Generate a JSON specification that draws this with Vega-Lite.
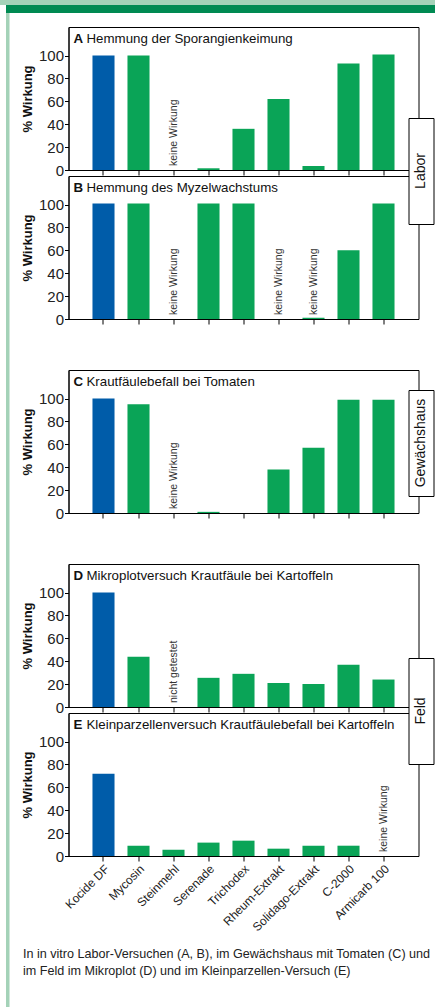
{
  "$schema": "https://vega.github.io/schema/vega-lite/v6.json",
  "padding": 0,
  "background": "white",
  "config": {
    "view": {"stroke": null},
    "font": "Liberation Sans, Arial, sans-serif",
    "axis": {"domainColor": "#000", "tickColor": "#000", "labelColor": "#222", "titleColor": "#111", "labelFont": "Liberation Sans, Arial, sans-serif", "titleFont": "Liberation Sans, Arial, sans-serif", "grid": false, "domainWidth": 1, "tickWidth": 1},
    "axisY": {"values": [0, 20, 40, 60, 80, 100], "labelOverlap": false, "tickSize": 4, "labelPadding": 1, "labelFontSize": 15, "titleFontSize": 13, "titleFontWeight": "bold", "titlePadding": 4},
    "axisX": {"title": null, "tickSize": 5},
    "title": {"anchor": "start", "frame": "group", "offset": -18, "dx": 18, "font": "Liberation Sans, Arial, sans-serif", "fontSize": 13.3, "fontWeight": "normal", "color": "#111"}
  },
  "datasets": {
    "wirkung": [
      {"Versuch": "A", "Mittel": "Kocide DF", "Gruppe": "Kupfer", "Wirkung": 100, "Hinweis": null},
      {"Versuch": "A", "Mittel": "Mycosin", "Gruppe": "Alternativ", "Wirkung": 100, "Hinweis": null},
      {"Versuch": "A", "Mittel": "Steinmehl", "Gruppe": "Alternativ", "Wirkung": null, "Hinweis": "keine Wirkung"},
      {"Versuch": "A", "Mittel": "Serenade", "Gruppe": "Alternativ", "Wirkung": 1.5, "Hinweis": null},
      {"Versuch": "A", "Mittel": "Trichodex", "Gruppe": "Alternativ", "Wirkung": 36, "Hinweis": null},
      {"Versuch": "A", "Mittel": "Rheum-Extrakt", "Gruppe": "Alternativ", "Wirkung": 62, "Hinweis": null},
      {"Versuch": "A", "Mittel": "Solidago-Extrakt", "Gruppe": "Alternativ", "Wirkung": 3.5, "Hinweis": null},
      {"Versuch": "A", "Mittel": "C-2000", "Gruppe": "Alternativ", "Wirkung": 93, "Hinweis": null},
      {"Versuch": "A", "Mittel": "Armicarb 100", "Gruppe": "Alternativ", "Wirkung": 101, "Hinweis": null},
      {"Versuch": "B", "Mittel": "Kocide DF", "Gruppe": "Kupfer", "Wirkung": 101, "Hinweis": null},
      {"Versuch": "B", "Mittel": "Mycosin", "Gruppe": "Alternativ", "Wirkung": 101, "Hinweis": null},
      {"Versuch": "B", "Mittel": "Steinmehl", "Gruppe": "Alternativ", "Wirkung": null, "Hinweis": "keine Wirkung"},
      {"Versuch": "B", "Mittel": "Serenade", "Gruppe": "Alternativ", "Wirkung": 101, "Hinweis": null},
      {"Versuch": "B", "Mittel": "Trichodex", "Gruppe": "Alternativ", "Wirkung": 101, "Hinweis": null},
      {"Versuch": "B", "Mittel": "Rheum-Extrakt", "Gruppe": "Alternativ", "Wirkung": null, "Hinweis": "keine Wirkung"},
      {"Versuch": "B", "Mittel": "Solidago-Extrakt", "Gruppe": "Alternativ", "Wirkung": 1, "Hinweis": "keine Wirkung"},
      {"Versuch": "B", "Mittel": "C-2000", "Gruppe": "Alternativ", "Wirkung": 60, "Hinweis": null},
      {"Versuch": "B", "Mittel": "Armicarb 100", "Gruppe": "Alternativ", "Wirkung": 101, "Hinweis": null},
      {"Versuch": "C", "Mittel": "Kocide DF", "Gruppe": "Kupfer", "Wirkung": 100, "Hinweis": null},
      {"Versuch": "C", "Mittel": "Mycosin", "Gruppe": "Alternativ", "Wirkung": 95, "Hinweis": null},
      {"Versuch": "C", "Mittel": "Steinmehl", "Gruppe": "Alternativ", "Wirkung": null, "Hinweis": "keine Wirkung"},
      {"Versuch": "C", "Mittel": "Serenade", "Gruppe": "Alternativ", "Wirkung": 1, "Hinweis": null},
      {"Versuch": "C", "Mittel": "Trichodex", "Gruppe": "Alternativ", "Wirkung": 0, "Hinweis": null},
      {"Versuch": "C", "Mittel": "Rheum-Extrakt", "Gruppe": "Alternativ", "Wirkung": 38, "Hinweis": null},
      {"Versuch": "C", "Mittel": "Solidago-Extrakt", "Gruppe": "Alternativ", "Wirkung": 57, "Hinweis": null},
      {"Versuch": "C", "Mittel": "C-2000", "Gruppe": "Alternativ", "Wirkung": 99, "Hinweis": null},
      {"Versuch": "C", "Mittel": "Armicarb 100", "Gruppe": "Alternativ", "Wirkung": 99, "Hinweis": null},
      {"Versuch": "D", "Mittel": "Kocide DF", "Gruppe": "Kupfer", "Wirkung": 100, "Hinweis": null},
      {"Versuch": "D", "Mittel": "Mycosin", "Gruppe": "Alternativ", "Wirkung": 44, "Hinweis": null},
      {"Versuch": "D", "Mittel": "Steinmehl", "Gruppe": "Alternativ", "Wirkung": null, "Hinweis": "nicht getestet"},
      {"Versuch": "D", "Mittel": "Serenade", "Gruppe": "Alternativ", "Wirkung": 25.5, "Hinweis": null},
      {"Versuch": "D", "Mittel": "Trichodex", "Gruppe": "Alternativ", "Wirkung": 29, "Hinweis": null},
      {"Versuch": "D", "Mittel": "Rheum-Extrakt", "Gruppe": "Alternativ", "Wirkung": 21, "Hinweis": null},
      {"Versuch": "D", "Mittel": "Solidago-Extrakt", "Gruppe": "Alternativ", "Wirkung": 20, "Hinweis": null},
      {"Versuch": "D", "Mittel": "C-2000", "Gruppe": "Alternativ", "Wirkung": 37, "Hinweis": null},
      {"Versuch": "D", "Mittel": "Armicarb 100", "Gruppe": "Alternativ", "Wirkung": 24, "Hinweis": null},
      {"Versuch": "E", "Mittel": "Kocide DF", "Gruppe": "Kupfer", "Wirkung": 72, "Hinweis": null},
      {"Versuch": "E", "Mittel": "Mycosin", "Gruppe": "Alternativ", "Wirkung": 9, "Hinweis": null},
      {"Versuch": "E", "Mittel": "Steinmehl", "Gruppe": "Alternativ", "Wirkung": 5.5, "Hinweis": null},
      {"Versuch": "E", "Mittel": "Serenade", "Gruppe": "Alternativ", "Wirkung": 11.7, "Hinweis": null},
      {"Versuch": "E", "Mittel": "Trichodex", "Gruppe": "Alternativ", "Wirkung": 13.4, "Hinweis": null},
      {"Versuch": "E", "Mittel": "Rheum-Extrakt", "Gruppe": "Alternativ", "Wirkung": 6.4, "Hinweis": null},
      {"Versuch": "E", "Mittel": "Solidago-Extrakt", "Gruppe": "Alternativ", "Wirkung": 9, "Hinweis": null},
      {"Versuch": "E", "Mittel": "C-2000", "Gruppe": "Alternativ", "Wirkung": 9, "Hinweis": null},
      {"Versuch": "E", "Mittel": "Armicarb 100", "Gruppe": "Alternativ", "Wirkung": null, "Hinweis": "keine Wirkung"}
    ]
  },
  "spacing": 0,
  "vconcat": [
    {"width": 435, "height": 5, "view": {"fill": "#a4d2b8", "stroke": null}, "data": {"values": []}, "mark": "point"},
    {
      "spacing": 0,
      "hconcat": [
        {"width": 6, "height": 1, "data": {"values": []}, "mark": "point"},
        {
          "spacing": 0,
          "vconcat": [
            {"width": 429, "height": 8, "view": {"fill": "#008a52", "stroke": null}, "data": {"values": []}, "mark": "point"},
            {
              "spacing": 10.5,
              "hconcat": [
                {"width": 3.5, "height": 994, "view": {"fill": "#a4d2b8", "stroke": null}, "data": {"values": []}, "mark": "point"},
                {
                  "spacing": 0,
                  "title": {"text": ["In in vitro Labor-Versuchen (A, B), im Gewächshaus mit Tomaten (C) und", "im Feld im Mikroplot (D) und im Kleinparzellen-Versuch (E)"], "orient": "bottom", "anchor": "start", "frame": "bounds", "offset": 14, "dx": 2, "fontSize": 12.6, "fontWeight": "normal", "lineHeight": 17, "color": "#222"},
                  "vconcat": [
                    {"width": 1, "height": 12.5, "data": {"values": []}, "mark": "point"},
                    {
                      "bounds": "flush",
                      "spacing": 340,
                      "hconcat": [
                        {
                          "bounds": "flush",
                          "spacing": 6,
                          "vconcat": [
                            {
                              "width": 350, "height": 143,
                              "view": {"stroke": "black", "strokeWidth": 1},
                              "title": "Hemmung der Sporangienkeimung",
                              "data": {"name": "wirkung"},
                              "transform": [{"filter": "datum.Versuch === 'A'"}],
                              "layer": [
                                {"mark": {"type": "bar"}, "encoding": {"x": {"field": "Mittel", "type": "nominal", "scale": {"domain": ["Kocide DF", "Mycosin", "Steinmehl", "Serenade", "Trichodex", "Rheum-Extrakt", "Solidago-Extrakt", "C-2000", "Armicarb 100"], "paddingInner": 0.37, "paddingOuter": 0.685}, "axis": {"labels": false}}, "y": {"field": "Wirkung", "type": "quantitative", "scale": {"domain": [0, 125], "nice": false}, "axis": {"title": "% Wirkung", "values": [0, 20, 40, 60, 80, 100], "labelOverlap": false}}, "color": {"field": "Gruppe", "type": "nominal", "scale": {"domain": ["Kupfer", "Alternativ"], "range": ["#005ca9", "#0aa457"]}, "legend": null}}},
                                {"transform": [{"filter": "datum.Hinweis != null"}], "mark": {"type": "text", "angle": 270, "align": "left", "baseline": "middle", "dx": 4, "fontSize": 10.5, "color": "#333"}, "encoding": {"x": {"field": "Mittel", "type": "nominal", "axis": {"labels": false}}, "y": {"datum": 0, "type": "quantitative", "axis": {"title": "% Wirkung", "values": [0, 20, 40, 60, 80, 100], "labelOverlap": false}}, "text": {"field": "Hinweis"}}},
                                {"data": {"values": [{"Versuch": "A"}]}, "mark": {"type": "text", "align": "left", "baseline": "top", "dx": -19, "dy": 4.5, "fontSize": 13.3, "fontWeight": "bold", "color": "#111"}, "encoding": {"x": {"datum": "Kocide DF", "bandPosition": 0, "axis": {"labels": false}}, "y": {"datum": 125, "type": "quantitative", "axis": {"title": "% Wirkung", "values": [0, 20, 40, 60, 80, 100], "labelOverlap": false}}, "text": {"field": "Versuch"}}}
                              ]
                            },
                            {
                              "width": 350, "height": 143,
                              "view": {"stroke": "black", "strokeWidth": 1},
                              "title": "Hemmung des Myzelwachstums",
                              "data": {"name": "wirkung"},
                              "transform": [{"filter": "datum.Versuch === 'B'"}],
                              "layer": [
                                {"mark": {"type": "bar"}, "encoding": {"x": {"field": "Mittel", "type": "nominal", "scale": {"domain": ["Kocide DF", "Mycosin", "Steinmehl", "Serenade", "Trichodex", "Rheum-Extrakt", "Solidago-Extrakt", "C-2000", "Armicarb 100"], "paddingInner": 0.37, "paddingOuter": 0.685}, "axis": {"labels": false}}, "y": {"field": "Wirkung", "type": "quantitative", "scale": {"domain": [0, 125], "nice": false}, "axis": {"title": "% Wirkung", "values": [0, 20, 40, 60, 80, 100], "labelOverlap": false}}, "color": {"field": "Gruppe", "type": "nominal", "scale": {"domain": ["Kupfer", "Alternativ"], "range": ["#005ca9", "#0aa457"]}, "legend": null}}},
                                {"transform": [{"filter": "datum.Hinweis != null"}], "mark": {"type": "text", "angle": 270, "align": "left", "baseline": "middle", "dx": 4, "fontSize": 10.5, "color": "#333"}, "encoding": {"x": {"field": "Mittel", "type": "nominal", "axis": {"labels": false}}, "y": {"datum": 0, "type": "quantitative", "axis": {"title": "% Wirkung", "values": [0, 20, 40, 60, 80, 100], "labelOverlap": false}}, "text": {"field": "Hinweis"}}},
                                {"data": {"values": [{"Versuch": "B"}]}, "mark": {"type": "text", "align": "left", "baseline": "top", "dx": -19, "dy": 4.5, "fontSize": 13.3, "fontWeight": "bold", "color": "#111"}, "encoding": {"x": {"datum": "Kocide DF", "bandPosition": 0, "axis": {"labels": false}}, "y": {"datum": 125, "type": "quantitative", "axis": {"title": "% Wirkung", "values": [0, 20, 40, 60, 80, 100], "labelOverlap": false}}, "text": {"field": "Versuch"}}}
                              ]
                            },
                            {"width": 1, "height": 39, "data": {"values": []}, "mark": "point"},
                            {
                              "width": 350, "height": 143,
                              "view": {"stroke": "black", "strokeWidth": 1},
                              "title": "Krautfäulebefall bei Tomaten",
                              "data": {"name": "wirkung"},
                              "transform": [{"filter": "datum.Versuch === 'C'"}],
                              "layer": [
                                {"mark": {"type": "bar"}, "encoding": {"x": {"field": "Mittel", "type": "nominal", "scale": {"domain": ["Kocide DF", "Mycosin", "Steinmehl", "Serenade", "Trichodex", "Rheum-Extrakt", "Solidago-Extrakt", "C-2000", "Armicarb 100"], "paddingInner": 0.37, "paddingOuter": 0.685}, "axis": {"labels": false}}, "y": {"field": "Wirkung", "type": "quantitative", "scale": {"domain": [0, 125], "nice": false}, "axis": {"title": "% Wirkung", "values": [0, 20, 40, 60, 80, 100], "labelOverlap": false}}, "color": {"field": "Gruppe", "type": "nominal", "scale": {"domain": ["Kupfer", "Alternativ"], "range": ["#005ca9", "#0aa457"]}, "legend": null}}},
                                {"transform": [{"filter": "datum.Hinweis != null"}], "mark": {"type": "text", "angle": 270, "align": "left", "baseline": "middle", "dx": 4, "fontSize": 10.5, "color": "#333"}, "encoding": {"x": {"field": "Mittel", "type": "nominal", "axis": {"labels": false}}, "y": {"datum": 0, "type": "quantitative", "axis": {"title": "% Wirkung", "values": [0, 20, 40, 60, 80, 100], "labelOverlap": false}}, "text": {"field": "Hinweis"}}},
                                {"data": {"values": [{"Versuch": "C"}]}, "mark": {"type": "text", "align": "left", "baseline": "top", "dx": -19, "dy": 4.5, "fontSize": 13.3, "fontWeight": "bold", "color": "#111"}, "encoding": {"x": {"datum": "Kocide DF", "bandPosition": 0, "axis": {"labels": false}}, "y": {"datum": 125, "type": "quantitative", "axis": {"title": "% Wirkung", "values": [0, 20, 40, 60, 80, 100], "labelOverlap": false}}, "text": {"field": "Versuch"}}}
                              ]
                            },
                            {"width": 1, "height": 39, "data": {"values": []}, "mark": "point"},
                            {
                              "width": 350, "height": 143,
                              "view": {"stroke": "black", "strokeWidth": 1},
                              "title": "Mikroplotversuch Krautfäule bei Kartoffeln",
                              "data": {"name": "wirkung"},
                              "transform": [{"filter": "datum.Versuch === 'D'"}],
                              "layer": [
                                {"mark": {"type": "bar"}, "encoding": {"x": {"field": "Mittel", "type": "nominal", "scale": {"domain": ["Kocide DF", "Mycosin", "Steinmehl", "Serenade", "Trichodex", "Rheum-Extrakt", "Solidago-Extrakt", "C-2000", "Armicarb 100"], "paddingInner": 0.37, "paddingOuter": 0.685}, "axis": {"labels": false}}, "y": {"field": "Wirkung", "type": "quantitative", "scale": {"domain": [0, 125], "nice": false}, "axis": {"title": "% Wirkung", "values": [0, 20, 40, 60, 80, 100], "labelOverlap": false}}, "color": {"field": "Gruppe", "type": "nominal", "scale": {"domain": ["Kupfer", "Alternativ"], "range": ["#005ca9", "#0aa457"]}, "legend": null}}},
                                {"transform": [{"filter": "datum.Hinweis != null"}], "mark": {"type": "text", "angle": 270, "align": "left", "baseline": "middle", "dx": 4, "fontSize": 10.5, "color": "#333"}, "encoding": {"x": {"field": "Mittel", "type": "nominal", "axis": {"labels": false}}, "y": {"datum": 0, "type": "quantitative", "axis": {"title": "% Wirkung", "values": [0, 20, 40, 60, 80, 100], "labelOverlap": false}}, "text": {"field": "Hinweis"}}},
                                {"data": {"values": [{"Versuch": "D"}]}, "mark": {"type": "text", "align": "left", "baseline": "top", "dx": -19, "dy": 4.5, "fontSize": 13.3, "fontWeight": "bold", "color": "#111"}, "encoding": {"x": {"datum": "Kocide DF", "bandPosition": 0, "axis": {"labels": false}}, "y": {"datum": 125, "type": "quantitative", "axis": {"title": "% Wirkung", "values": [0, 20, 40, 60, 80, 100], "labelOverlap": false}}, "text": {"field": "Versuch"}}}
                              ]
                            },
                            {
                              "width": 350, "height": 143,
                              "view": {"stroke": "black", "strokeWidth": 1},
                              "title": "Kleinparzellenversuch Krautfäulebefall bei Kartoffeln",
                              "data": {"name": "wirkung"},
                              "transform": [{"filter": "datum.Versuch === 'E'"}],
                              "layer": [
                                {"mark": {"type": "bar"}, "encoding": {"x": {"field": "Mittel", "type": "nominal", "scale": {"domain": ["Kocide DF", "Mycosin", "Steinmehl", "Serenade", "Trichodex", "Rheum-Extrakt", "Solidago-Extrakt", "C-2000", "Armicarb 100"], "paddingInner": 0.37, "paddingOuter": 0.685}, "axis": {"labels": true, "labelAngle": -45, "labelFontSize": 12, "labelPadding": 2}}, "y": {"field": "Wirkung", "type": "quantitative", "scale": {"domain": [0, 125], "nice": false}, "axis": {"title": "% Wirkung", "values": [0, 20, 40, 60, 80, 100], "labelOverlap": false}}, "color": {"field": "Gruppe", "type": "nominal", "scale": {"domain": ["Kupfer", "Alternativ"], "range": ["#005ca9", "#0aa457"]}, "legend": null}}},
                                {"transform": [{"filter": "datum.Hinweis != null"}], "mark": {"type": "text", "angle": 270, "align": "left", "baseline": "middle", "dx": 4, "fontSize": 10.5, "color": "#333"}, "encoding": {"x": {"field": "Mittel", "type": "nominal", "axis": {"labels": true, "labelAngle": -45, "labelFontSize": 12, "labelPadding": 2}}, "y": {"datum": 0, "type": "quantitative", "axis": {"title": "% Wirkung", "values": [0, 20, 40, 60, 80, 100], "labelOverlap": false}}, "text": {"field": "Hinweis"}}},
                                {"data": {"values": [{"Versuch": "E"}]}, "mark": {"type": "text", "align": "left", "baseline": "top", "dx": -19, "dy": 4.5, "fontSize": 13.3, "fontWeight": "bold", "color": "#111"}, "encoding": {"x": {"datum": "Kocide DF", "bandPosition": 0, "axis": {"labels": true, "labelAngle": -45, "labelFontSize": 12, "labelPadding": 2}}, "y": {"datum": 125, "type": "quantitative", "axis": {"title": "% Wirkung", "values": [0, 20, 40, 60, 80, 100], "labelOverlap": false}}, "text": {"field": "Versuch"}}}
                              ]
                            }
                          ]
                        },
                        {
                          "bounds": "flush",
                          "spacing": 0,
                          "vconcat": [
                            {"width": 1, "height": 91, "data": {"values": []}, "mark": "point"},
                            {"width": 25, "height": 106, "view": {"stroke": "black", "fill": "white", "strokeWidth": 1}, "data": {"values": [{"Ort": "Labor"}]}, "mark": {"type": "text", "angle": 270, "fontSize": 14, "color": "#111", "baseline": "middle", "align": "center"}, "encoding": {"x": {"field": "Ort", "type": "nominal", "axis": null}, "y": {"field": "Ort", "type": "nominal", "axis": null}, "text": {"field": "Ort"}}},
                            {"width": 1, "height": 166, "data": {"values": []}, "mark": "point"},
                            {"width": 25, "height": 106, "view": {"stroke": "black", "fill": "white", "strokeWidth": 1}, "data": {"values": [{"Ort": "Gewächshaus"}]}, "mark": {"type": "text", "angle": 270, "fontSize": 14, "color": "#111", "baseline": "middle", "align": "center"}, "encoding": {"x": {"field": "Ort", "type": "nominal", "axis": null}, "y": {"field": "Ort", "type": "nominal", "axis": null}, "text": {"field": "Ort"}}},
                            {"width": 1, "height": 162, "data": {"values": []}, "mark": "point"},
                            {"width": 25, "height": 106, "view": {"stroke": "black", "fill": "white", "strokeWidth": 1}, "data": {"values": [{"Ort": "Feld"}]}, "mark": {"type": "text", "angle": 270, "fontSize": 14, "color": "#111", "baseline": "middle", "align": "center"}, "encoding": {"x": {"field": "Ort", "type": "nominal", "axis": null}, "y": {"field": "Ort", "type": "nominal", "axis": null}, "text": {"field": "Ort"}}}
                          ]
                        }
                      ]
                    }
                  ]
                }
              ]
            }
          ]
        }
      ]
    }
  ]
}
